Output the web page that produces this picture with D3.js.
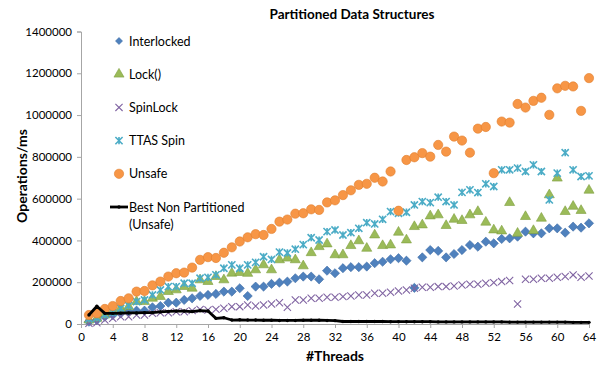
<!DOCTYPE html>
<html lang="en">
<head>
<meta charset="UTF-8">
<script src="https://d3js.org/d3.v7.min.js"></script>
<title>Partitioned Data Structures</title>
<style>
  body { margin: 0; background: #fff; }
  text { font-family: Lato, "Open Sans", sans-serif; fill: #000; }
</style>
</head>
<body>
<div id="chart"></div>
<script>
// thread counts along x
var threads = [1,2,3,4,5,6,7,8,9,10,11,12,13,14,15,16,17,18,19,20,21,22,23,24,25,26,27,28,29,30,31,32,
               33,34,35,36,37,38,39,40,41,42,43,44,45,46,47,48,49,50,51,52,53,54,55,56,57,58,59,60,61,62,63,64];

// operations/ms
var interlocked = [11000,19000,35000,43000,51000,59000,64000,64000,80000,86000,102000,102000,115000,123000,134000,139000,
  144000,155000,155000,171000,134000,179000,179000,192000,198000,203000,219000,227000,227000,214000,255000,243000,
  267000,272000,272000,275000,291000,298000,310000,315000,303000,173000,319000,354000,350000,319000,335000,354000,
  378000,370000,394000,386000,407000,410000,418000,442000,434000,434000,458000,458000,437000,466000,461000,482000];

var lockSeries = [19000,27000,43000,59000,75000,83000,107000,107000,123000,131000,155000,163000,179000,171000,211000,203000,
  227000,211000,243000,246000,242000,259000,283000,259000,307000,315000,307000,278000,341000,370000,383000,331000,
  331000,375000,398000,362000,426000,375000,378000,439000,402000,466000,474000,517000,522000,471000,501000,495000,
  522000,538000,487000,450000,445000,581000,434000,514000,447000,506000,618000,698000,538000,563000,543000,640000];

var spinLock = [3000,6000,19000,27000,35000,35000,43000,43000,51000,54000,54000,59000,59000,64000,70000,67000,
  70000,75000,83000,83000,91000,86000,91000,96000,102000,80000,115000,115000,123000,123000,128000,128000,
  131000,134000,139000,139000,147000,147000,152000,158000,163000,171000,176000,176000,179000,179000,182000,187000,
  190000,190000,195000,198000,203000,208000,96000,214000,214000,219000,219000,224000,227000,235000,224000,230000];

var ttasSpin = [25000,30000,45000,55000,75000,88000,107000,115000,139000,163000,179000,179000,195000,195000,219000,223000,
  235000,267000,283000,267000,283000,295000,322000,309000,344000,340000,358000,380000,413000,402000,442000,450000,
  426000,437000,458000,485000,479000,501000,538000,530000,535000,570000,586000,581000,607000,586000,570000,630000,
  642000,629000,671000,658000,738000,738000,746000,730000,762000,730000,594000,722000,820000,738000,706000,709000];

var unsafe = [43000,51000,72000,86000,110000,123000,155000,158000,185000,203000,227000,243000,246000,270000,307000,320000,
  316000,341000,367000,395000,415000,430000,426000,455000,490000,500000,528000,530000,549000,546000,582000,592000,
  617000,640000,666000,671000,700000,682000,730000,542000,785000,798000,818000,801000,857000,825000,897000,878000,
  820000,935000,943000,722000,969000,964000,1053000,1036000,1068000,1083000,1001000,1128000,1140000,1137000,1020000,1177000];

var bestNonPartitioned = [43000,85000,51000,51000,52000,53000,53000,54000,54000,58000,60000,62000,62000,59000,64000,62000,
  27000,30000,19000,20000,19000,19000,18000,18000,17000,17000,17000,18000,18000,18000,17000,16000,
  12000,12000,12000,12000,12000,12000,11000,11000,11000,11000,11000,11000,10000,10000,10000,10000,
  10000,10000,10000,10000,10000,9000,9000,9000,9000,9000,9000,9000,9000,8000,8000,8000];

var xTicks = [0,4,8,12,16,20,24,28,32,36,40,44,48,52,56,60,64];
var yTicks = [0,200000,400000,600000,800000,1000000,1200000,1400000];

var W = 599, H = 367;
var svg = d3.select("#chart").append("svg").attr("width", W).attr("height", H);

var x = d3.scaleLinear().domain([0, 64]).range([81, 589]);
var y = d3.scaleLinear().domain([0, 1400000]).range([324, 31.5]);

var axisColor = "#a6a6a6";

// axes
var xAxis = svg.append("g").attr("transform", "translate(0,324)")
  .call(d3.axisBottom(x).tickValues(xTicks).tickSize(4).tickPadding(5).tickFormat(d3.format("d")));
var yAxis = svg.append("g").attr("transform", "translate(81,0)")
  .call(d3.axisLeft(y).tickValues(yTicks).tickSize(4).tickPadding(5).tickFormat(d3.format("d")));
[xAxis, yAxis].forEach(function (g) {
  g.select(".domain").attr("stroke", axisColor);
  g.selectAll(".tick line").attr("stroke", axisColor);
  g.selectAll("text").style("font-family", "Lato, sans-serif").style("font-size", "11.5px").attr("fill", "#000");
});

// titles
svg.append("text").attr("x", 352).attr("y", 19).attr("text-anchor", "middle")
  .style("font-size", "13.5px").style("font-weight", "bold").text("Partitioned Data Structures");
svg.append("text").attr("x", 335).attr("y", 361).attr("text-anchor", "middle")
  .style("font-size", "14px").style("font-weight", "bold").text("#Threads");
svg.append("text").attr("transform", "translate(27,176) rotate(-90)").attr("text-anchor", "middle")
  .style("font-size", "14px").style("font-weight", "bold").text("Operations/ms");

// marker shapes
function crossPath(s) {
  return "M" + (-s) + "," + (-s) + "L" + s + "," + s + "M" + (-s) + "," + s + "L" + s + "," + (-s);
}
function starPath(s) {
  return crossPath(s) + "M0," + (-s) + "L0," + s;
}
function diamondPath(s) {
  return "M0," + (-s) + "L" + s + ",0L0," + s + "L" + (-s) + ",0Z";
}
var series = [
  { name: "Interlocked", values: interlocked, fill: "#4f81bd", stroke: "#3a6aa5",
    path: diamondPath(4.6) },
  { name: "Lock()", values: lockSeries, fill: "#9bbb59", stroke: "#7fa03f",
    path: d3.symbol().type(d3.symbolTriangle).size(44)() },
  { name: "SpinLock", values: spinLock, fill: "none", stroke: "#8064a2", width: 1.1,
    path: crossPath(3.6) },
  { name: "TTAS Spin", values: ttasSpin, fill: "none", stroke: "#4bacc6", width: 1.6,
    path: starPath(3.6) },
  { name: "Unsafe", values: unsafe, fill: "#f79646", stroke: "#e07e2c",
    path: d3.symbol().type(d3.symbolCircle).size(68)() }
];

series.forEach(function (s) {
  svg.append("g").selectAll("path").data(s.values).enter().append("path")
    .attr("d", s.path)
    .attr("transform", function (d, i) { return "translate(" + x(threads[i]) + "," + y(d) + ")"; })
    .attr("fill", s.fill)
    .attr("stroke", s.stroke)
    .attr("stroke-width", s.width || 0.6);
});

// best non partitioned line
var line = d3.line().x(function (d, i) { return x(threads[i]); }).y(function (d) { return y(d); });
svg.append("path").datum(bestNonPartitioned).attr("d", line)
  .attr("fill", "none").attr("stroke", "#000").attr("stroke-width", 2.8).attr("stroke-linejoin", "round");
svg.append("g").selectAll("circle").data(bestNonPartitioned).enter().append("circle")
  .attr("cx", function (d, i) { return x(threads[i]); })
  .attr("cy", function (d) { return y(d); })
  .attr("r", 1.7).attr("fill", "#000");

// legend
var legend = svg.append("g");
series.forEach(function (s, i) {
  var ly = 41 + i * 33.2;
  legend.append("path").attr("d", i === 0 ? diamondPath(3.5) : s.path)
    .attr("transform", "translate(119," + ly + ")")
    .attr("fill", s.fill).attr("stroke", s.stroke).attr("stroke-width", s.width || 0.6);
  legend.append("text").attr("x", 129).attr("y", ly + 4.5).style("font-size", "12.5px").text(s.name);
});
legend.append("line").attr("x1", 110).attr("x2", 128).attr("y1", 207).attr("y2", 207)
  .attr("stroke", "#000").attr("stroke-width", 2.8);
legend.append("circle").attr("cx", 119).attr("cy", 207).attr("r", 1.7).attr("fill", "#000");
legend.append("text").attr("x", 129).attr("y", 212).style("font-size", "12.5px").text("Best Non Partitioned");
legend.append("text").attr("x", 129).attr("y", 229).style("font-size", "12.5px").text("(Unsafe)");
</script>
</body>
</html>
